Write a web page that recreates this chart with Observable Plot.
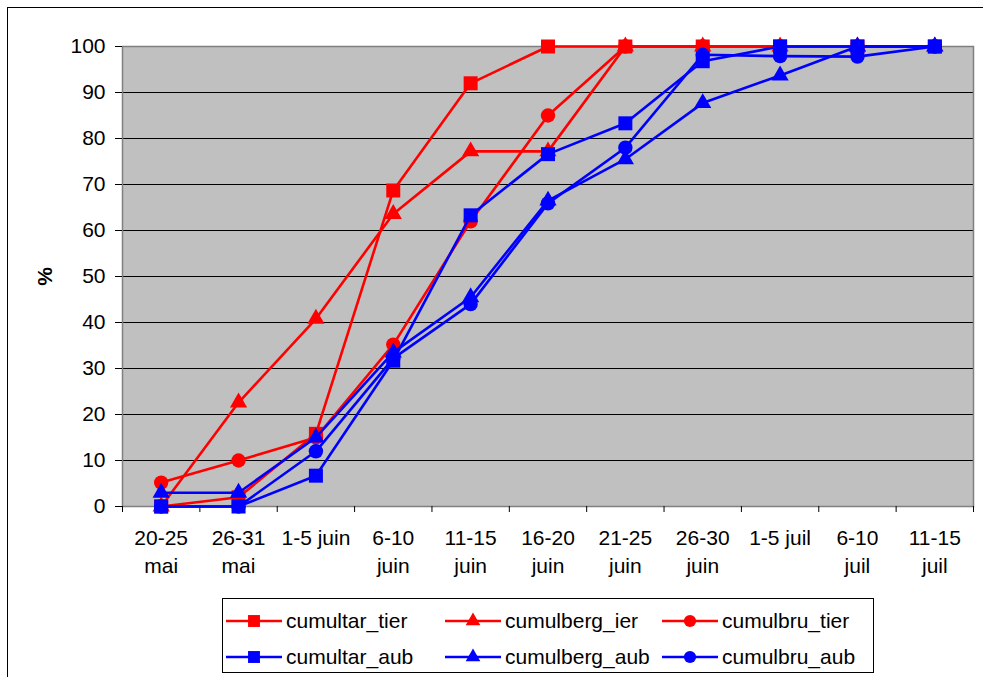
<!DOCTYPE html>
<html>
<head>
<meta charset="utf-8">
<script src="https://cdn.jsdelivr.net/npm/d3@7"></script>
<script src="https://cdn.jsdelivr.net/npm/@observablehq/plot@0.6"></script>
<style>
  html, body { margin: 0; padding: 0; background: #fff; overflow: hidden; }
  #wrap { position: relative; width: 983px; height: 677px; overflow: hidden; font-family: 'Liberation Sans', Arial, sans-serif; }
  #outer { position: absolute; left: 7px; top: 7px; width: 2000px; height: 2000px; border: 1px solid #000; box-sizing: border-box; pointer-events: none; }
  #chart { position: absolute; left: 0; top: 0; }
  g[aria-label="y-axis label"] text { font-weight: bold; }
  #legend { position: absolute; left: 222px; top: 598px; width: 652px; height: 75px; border: 1px solid #000; box-sizing: border-box; background: #fff;
            display: grid; grid-template-columns: 219px 217px auto; grid-auto-rows: 36px; padding: 4px 0 0 3px; font-size: 21px; color: #000; }
  .item { display: flex; align-items: center; white-space: nowrap; }
  .item svg { margin-right: 4px; flex: none; }
</style>
</head>
<body>
<div id="wrap">
  <div id="chart"></div>
  <div id="legend"></div>
  <div id="outer"></div>
</div>
<script>
const categories = ["20-25\nmai", "26-31\nmai", "1-5 juin", "6-10\njuin", "11-15\njuin", "16-20\njuin", "21-25\njuin", "26-30\njuin", "1-5 juil", "6-10\njuil", "11-15\njuil"];
const seriesNames = ["cumultar_tier", "cumulberg_ier", "cumulbru_tier", "cumultar_aub", "cumulberg_aub", "cumulbru_aub"];
const cumultar_tier = [0, 2, 15.8, 68.7, 92, 100, 100, 100, 100, 100, 100];
const cumulberg_ier = [0, 22.6, 40.8, 63.6, 77.2, 77.2, 100, 100, 100, 100, 100];
const cumulbru_tier = [5.2, 10, 15, 35.2, 62, 85, 100, 100, 100, 100, 100];
const cumultar_aub = [0, 0, 6.7, 31.7, 63.3, 76.6, 83.3, 96.8, 100, 100, 100];
const cumulberg_aub = [3, 3, 15, 33.5, 45.5, 66.5, 75.5, 87.7, 93.7, 100, 100];
const cumulbru_aub = [0, 0, 12, 32.2, 44, 65.9, 78, 98.2, 97.9, 97.8, 100];
const yTicks = [0, 10, 20, 30, 40, 50, 60, 70, 80, 90, 100];

const seriesValues = [cumultar_tier, cumulberg_ier, cumulbru_tier, cumultar_aub, cumulberg_aub, cumulbru_aub];
const colors = ["#ff0000", "#ff0000", "#ff0000", "#0000ff", "#0000ff", "#0000ff"];
const symbols = ["square", "triangle", "circle", "square", "triangle", "circle"];
const radius = {square: 7.9, triangle: 6.4, circle: 7.2};

const rows = seriesNames.flatMap((s, k) => seriesValues[k].map((v, i) => ({series: s, k, i, v})));
const idx = d3.range(categories.length);
const bounds = d3.range(categories.length + 1).map(i => i - 0.5);

const seriesMarks = seriesNames.flatMap((s, k) => {
  const data = rows.filter(d => d.k === k);
  return [
    Plot.line(data, {x: "i", y: "v", stroke: colors[k], strokeWidth: 2.6}),
    Plot.dot(data, {x: "i", y: "v", symbol: () => symbols[k], fill: colors[k], stroke: "none", r: radius[symbols[k]]})
  ];
});

const chart = Plot.plot({
  width: 983,
  height: 677,
  marginLeft: 122,
  marginRight: 10,
  marginTop: 46,
  marginBottom: 171,
  style: {fontFamily: "'Liberation Sans', Arial, sans-serif", fontSize: "21px", background: "transparent", color: "#000"},
  x: {type: "linear", domain: [-0.5, categories.length - 0.5]},
  y: {domain: [0, 100]},
  symbol: {type: "identity"},
  marks: [
    Plot.frame({fill: "#c0c0c0", stroke: "none"}),
    Plot.gridY(yTicks, {stroke: "#000", strokeOpacity: 1, strokeWidth: 1}),
    Plot.frame({stroke: "#808080", strokeWidth: 1.5}),
    Plot.axisY(yTicks, {tickSize: 7, tickPadding: 10, fontSize: 21, label: "%", labelAnchor: "center", labelOffset: 85, labelArrow: "none"}),
    Plot.axisX(bounds, {tickSize: 6, tickFormat: () => "", label: null}),
    Plot.axisX(idx, {tickSize: 0, tickPadding: 19, fontSize: 21, lineHeight: 1.33, tickFormat: i => categories[i], label: null}),
    ...seriesMarks
  ]
});
document.getElementById("chart").appendChild(chart);

// Legend (3 columns x 2 rows, same order as the reference)
const legend = d3.select("#legend");
seriesNames.forEach((name, k) => {
  const item = legend.append("div").attr("class", "item");
  const svg = item.append("svg").attr("width", 56).attr("height", 20);
  svg.append("line").attr("x1", 0).attr("x2", 56).attr("y1", 10).attr("y2", 10).attr("stroke", colors[k]).attr("stroke-width", 2.6);
  const sym = {square: d3.symbolSquare, triangle: d3.symbolTriangle, circle: d3.symbolCircle}[symbols[k]];
  const r = radius[symbols[k]] * 0.85;
  svg.append("path").attr("transform", "translate(28,10)").attr("d", d3.symbol(sym, Math.PI * r * r)()).attr("fill", colors[k]);
  item.append("span").text(name);
});
</script>
</body>
</html>
